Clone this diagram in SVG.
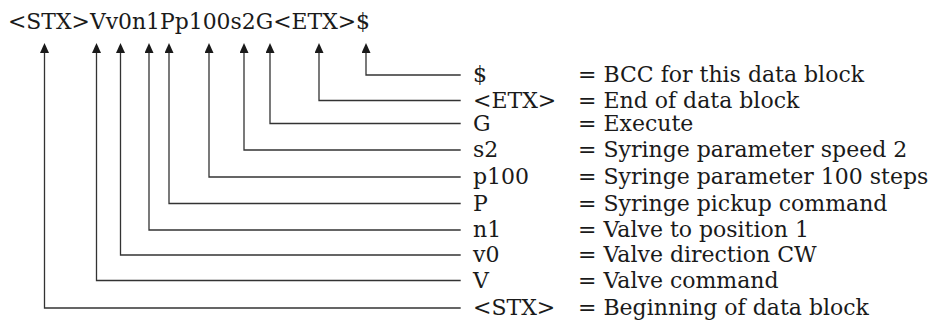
<svg xmlns="http://www.w3.org/2000/svg" width="935" height="323" viewBox="0 0 935 323">
<style>
text{font-family:"DejaVu Serif","Liberation Serif",serif;font-size:22px;fill:#1a1a1a}
.c{fill:none;stroke:#333;stroke-width:1.3}
</style>
<defs>
<marker id="ah" markerUnits="userSpaceOnUse" markerWidth="10" markerHeight="9" viewBox="0 0 10 9" refX="0" refY="4.5" orient="auto">
<path d="M0,0 L10,4.5 L0,9 z" fill="#1a1a1a"/>
</marker>
</defs>
<g id="command"><text x="8" y="29" textLength="362" lengthAdjust="spacingAndGlyphs">&lt;STX&gt;Vv0n1Pp100s2G&lt;ETX&gt;$</text></g>
<g id="connectors">
<path class="c" d="M460.7 75 H366 V53" marker-end="url(#ah)"/>
<path class="c" d="M460.7 100.5 H319 V53" marker-end="url(#ah)"/>
<path class="c" d="M460.7 123.5 H270 V53" marker-end="url(#ah)"/>
<path class="c" d="M460.7 150 H244 V53" marker-end="url(#ah)"/>
<path class="c" d="M460.7 177 H209 V53" marker-end="url(#ah)"/>
<path class="c" d="M460.7 203.5 H169 V53" marker-end="url(#ah)"/>
<path class="c" d="M460.7 230 H149 V53" marker-end="url(#ah)"/>
<path class="c" d="M460.7 255 H120.5 V53" marker-end="url(#ah)"/>
<path class="c" d="M460.7 280.5 H96.5 V53" marker-end="url(#ah)"/>
<path class="c" d="M460.7 308 H44.5 V53" marker-end="url(#ah)"/>
</g>
<g id="bcc"><text x="473" y="82">$</text><text x="578" y="82">= BCC for this data block</text></g>
<g id="etx"><text x="473" y="108">&lt;ETX&gt;</text><text x="578" y="108">= End of data block</text></g>
<g id="execute"><text x="473" y="131">G</text><text x="578" y="131">= Execute</text></g>
<g id="speed"><text x="473" y="157">s2</text><text x="578" y="157">= Syringe parameter speed 2</text></g>
<g id="steps"><text x="473" y="184">p100</text><text x="578" y="184">= Syringe parameter 100 steps</text></g>
<g id="pickup"><text x="473" y="211">P</text><text x="578" y="211">= Syringe pickup command</text></g>
<g id="position"><text x="473" y="237">n1</text><text x="578" y="237">= Valve to position 1</text></g>
<g id="direction"><text x="473" y="262">v0</text><text x="578" y="262">= Valve direction CW</text></g>
<g id="valve"><text x="473" y="288">V</text><text x="578" y="288">= Valve command</text></g>
<g id="stx"><text x="473" y="315">&lt;STX&gt;</text><text x="578" y="315">= Beginning of data block</text></g>
</svg>
